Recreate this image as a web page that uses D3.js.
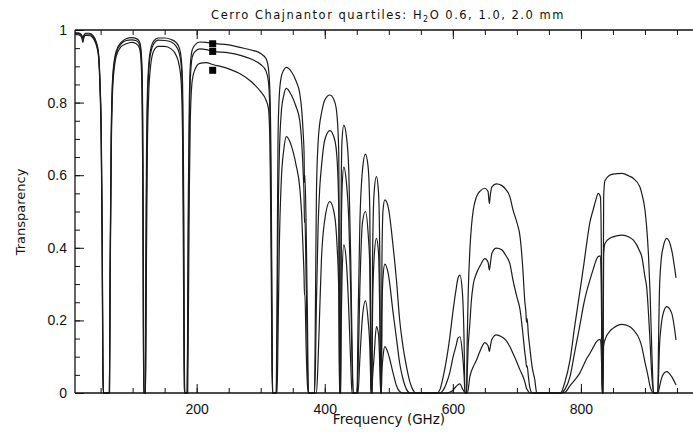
<!DOCTYPE html>
<html>
<head>
<meta charset="utf-8">
<script src="https://cdn.jsdelivr.net/npm/d3@7"></script>
<style>
  body { margin: 0; background: #fff; }
  svg { display: block; font-family: "DejaVu Sans", sans-serif; }
  .tick text { font-size: 14px; fill: #111; }
  .tick line { stroke: #111; }
</style>
</head>
<body>
<svg id="chart" width="693" height="434"></svg>
<script>
// atmospheric transparency at Cerro Chajnantor
// common frequency grid (GHz), one row per spectral window
const freqGHz = [
  10, 15, 19, 21, 22.2, 23.5, 26, 32, 38, 43, 46.5, 49, 51, 52.5, 53.5, 54.3, 63.8,
  64.8, 66.6, 69.2, 74.4, 82, 90, 98.5, 105, 110, 112.5, 114.5, 115.8, 116.7, 117.4, 119.8,
  120.6, 121.6, 123, 125, 128, 133, 140, 150, 160, 168, 173, 176, 178, 179.5, 180.5, 181.3, 185.2,
  186, 187, 188.5, 190, 193, 197, 205, 215, 225, 250, 267, 285, 300, 308, 312, 314.5, 316.3, 317.6, 318.6, 324.3,
  325.6, 327, 329, 332, 336, 340, 348, 355, 361, 364, 366.5, 367.7, 368.3, 369, 371, 373, 374.5, 384,
  385.5, 387, 389.6, 392, 394.8, 400, 408, 415.6, 419.3, 421.9, 422.7, 423.2, 424.6, 425.6, 427, 429.7, 433.9, 437.5, 440.6, 442.5, 444.5, 450.3,
  452, 454.7, 458.9, 463.5, 467.7, 470.3, 471.5, 472.2, 473.5, 474.6, 477, 480.7, 484, 486, 487.3, 488.3, 489.3, 491, 493.8, 499, 506.8, 512, 517, 522, 527.7, 533, 538, 542,
  575, 580, 585, 590, 595, 600.5, 605, 608, 611, 615, 617.5, 619, 621.4,
  622.5, 624, 626.6, 629, 632, 637, 643, 650, 655, 657, 658.5, 661, 668, 676, 683, 689, 694, 700, 705, 709, 712.5, 714, 715, 716, 718, 720, 724, 728, 731,
  768, 775, 783, 790, 798, 805, 809, 814, 819, 823, 827, 830.5, 832.3, 833.2, 834.2,
  835.5, 837.5, 845, 850, 864, 875, 882, 892, 895, 900, 902.6, 905.5, 908, 911, 913.5, 920, 921.3, 922.5, 925, 928.6, 934, 941.7, 948.5
];

// H2O 0.6 mm
const pwv06 = [
  .993,.992,.989,.984,.978,.984,.991,.991,.985,.968,.940,.860,.720,.450,.100,0,0,
  .350,.720,.880,.942,.966,.976,.979,.977,.970,.955,.900,.740,.400,0,0,
  .350,.650,.820,.900,.945,.970,.978,.978,.974,.965,.950,.920,.850,.600,.200,0,0,
  .250,.550,.800,.900,.945,.958,.967,.966,.963,.959,.952,.945,.935,.922,.895,.820,.600,.250,0,0,
  .300,.700,.820,.870,.890,.897,.885,.860,.825,.780,.710,.660,.580,.600,.450,.200,0,0,
  .250,.550,.690,.740,.770,.807,.821,.802,.761,.660,.350,0,0,.550,.697,.738,.706,.614,.366,.150,0,0,
  .200,.458,.614,.658,.623,.504,.250,0,0,.366,.550,.596,.550,.366,0,0,.366,.504,.532,.513,.403,.310,.201,.130,.072,.030,.008,0,
  0,.010,.045,.091,.150,.229,.285,.316,.325,.275,.150,0,0,
  .150,.275,.394,.458,.505,.541,.557,.564,.555,.522,.545,.568,.576,.572,.560,.541,.504,.470,.430,.350,.250,.225,.195,.205,.160,.128,.070,.036,0,
  0,.030,.091,.180,.275,.360,.412,.470,.504,.530,.550,.540,.300,0,0,
  .540,.585,.600,.603,.605,.598,.591,.568,.550,.504,.458,.380,.275,.100,0,0,.150,.275,.360,.403,.426,.394,.317
];

// H2O 1.0 mm
const pwv10 = [
  .991,.990,.987,.981,.974,.981,.989,.989,.982,.965,.936,.852,.705,.420,.080,0,0,
  .320,.700,.870,.937,.962,.971,.973,.971,.963,.945,.880,.690,.300,0,0,
  .250,.550,.780,.880,.935,.962,.972,.971,.967,.955,.935,.900,.800,.500,.100,0,0,
  .150,.450,.720,.860,.925,.940,.948,.946,.941,.937,.931,.920,.905,.888,.858,.760,.480,.150,0,0,
  .150,.450,.650,.770,.820,.839,.820,.790,.750,.690,.600,.540,.470,.480,.300,.080,0,0,
  .080,.250,.458,.560,.623,.697,.723,.697,.642,.504,.200,0,0,.380,.560,.622,.578,.477,.275,.090,0,0,
  .060,.280,.470,.500,.440,.348,.150,0,0,.220,.370,.426,.385,.200,0,0,.220,.320,.355,.330,.220,.150,.082,.040,.010,0,0,0,
  0,0,.008,.027,.055,.100,.130,.151,.155,.109,.050,0,0,
  .060,.128,.192,.256,.300,.330,.352,.370,.360,.339,.355,.385,.399,.395,.378,.357,.310,.265,.229,.170,.110,.090,.072,.075,.045,.017,0,0,0,
  0,.010,.045,.110,.183,.250,.280,.311,.340,.362,.376,.378,.200,0,0,
  .380,.412,.426,.430,.435,.430,.421,.390,.376,.320,.293,.220,.140,.040,0,0,.050,.120,.180,.220,.238,.220,.146
];

// H2O 2.0 mm
const pwv20 = [
  .988,.987,.983,.976,.966,.976,.985,.985,.978,.960,.930,.840,.680,.380,.050,0,0,
  .280,.660,.850,.928,.954,.962,.966,.963,.953,.930,.840,.600,.170,0,0,
  .080,.380,.670,.820,.900,.943,.955,.955,.948,.930,.900,.850,.700,.300,.020,0,0,
  0,.200,.550,.750,.860,.890,.908,.910,.905,.893,.880,.858,.830,.808,.785,.680,.380,.060,0,0,
  0,.150,.400,.580,.670,.706,.680,.630,.565,.490,.380,.320,.270,.270,.120,.020,0,0,
  0,0,.090,.220,.366,.477,.527,.486,.403,.275,.080,0,0,.180,.320,.408,.357,.229,.080,0,0,0,
  0,.090,.210,.254,.200,.128,.050,0,0,.040,.100,.183,.160,.070,0,0,.060,.100,.128,.109,.054,.020,.004,0,0,0,0,0,
  0,0,0,0,.002,.008,.018,.023,.025,.012,.004,0,0,
  0,.010,.045,.060,.073,.091,.118,.139,.130,.114,.128,.148,.160,.155,.145,.128,.109,.085,.063,.048,.030,.020,.012,.010,.004,0,0,0,0,
  0,.002,.020,.035,.054,.080,.095,.109,.125,.138,.146,.148,.080,0,0,
  .130,.146,.170,.178,.189,.184,.174,.145,.128,.085,.065,.040,.018,.004,0,0,.005,.015,.035,.052,.059,.045,.022
];

// 225 GHz tipper values marked with squares
const markerFreq = 225;
const markerValues = [0.962, 0.941, 0.889];

const xMajor = [200, 400, 600, 800];
const xMinor = d3.range(50, 1001, 50);
const yMajor = [0, 0.2, 0.4, 0.6, 0.8, 1];
const yMinor = d3.range(1, 20).map(i => i * 0.05);

const W = 693, H = 434;
const svg = d3.select("#chart");

// plot box is cut off at the right edge of the picture
const x = d3.scaleLinear().domain([10, 1000]).range([75, 709]);
const y = d3.scaleLinear().domain([0, 1]).range([393, 30]);

svg.append("rect").attr("width", W).attr("height", H).attr("fill", "#fff");

// curves
const line = d3.line()
    .x((d, i) => x(freqGHz[i]))
    .y(d => y(d))
    .curve(d3.curveMonotoneX);

svg.append("g")
  .selectAll("path")
  .data([pwv06, pwv10, pwv20])
  .join("path")
    .attr("d", line)
    .attr("fill", "none")
    .attr("stroke", "#1c1c1c")
    .attr("stroke-width", 1.2);

// markers
svg.append("g")
  .selectAll("rect")
  .data(markerValues)
  .join("rect")
    .attr("x", x(markerFreq) - 3.5)
    .attr("y", d => y(d) - 3.5)
    .attr("width", 7)
    .attr("height", 7)
    .attr("fill", "#000");

// axes, ticks pointing inward
function noDomain(g) { g.select(".domain").remove(); }

svg.append("g").attr("transform", "translate(0,393)")
  .call(d3.axisBottom(x).tickValues(xMinor).tickSize(-5).tickFormat(""))
  .call(noDomain);
svg.append("g").attr("transform", "translate(0,393)")
  .call(d3.axisBottom(x).tickValues(xMajor).tickSize(-9).tickPadding(11).tickFormat(d3.format("d")))
  .call(noDomain);
svg.append("g").attr("transform", "translate(0,30)")
  .call(d3.axisTop(x).tickValues(xMinor).tickSize(-5).tickFormat(""))
  .call(noDomain);
svg.append("g").attr("transform", "translate(0,30)")
  .call(d3.axisTop(x).tickValues(xMajor).tickSize(-9).tickFormat(""))
  .call(noDomain);
svg.append("g").attr("transform", "translate(75,0)")
  .call(d3.axisLeft(y).tickValues(yMinor).tickSize(-5).tickFormat(""))
  .call(noDomain);
svg.append("g").attr("transform", "translate(75,0)")
  .call(d3.axisLeft(y).tickValues(yMajor).tickSize(-9).tickPadding(8).tickFormat(d3.format("~g")))
  .call(noDomain);

// frame
const frame = svg.append("g").attr("stroke", "#111").attr("stroke-width", 1.3);
frame.append("line").attr("x1", 75).attr("x2", 75).attr("y1", 30).attr("y2", 393);
frame.append("line").attr("x1", 75).attr("x2", W).attr("y1", 30).attr("y2", 30);
frame.append("line").attr("x1", 75).attr("x2", W).attr("y1", 393).attr("y2", 393);

// title
const title = svg.append("text")
    .attr("x", 388).attr("y", 19)
    .attr("text-anchor", "middle")
    .attr("font-size", 11.5)
    .attr("letter-spacing", 1.5)
    .attr("fill", "#111");
title.append("tspan").text("Cerro Chajnantor quartiles: H");
title.append("tspan").attr("dy", 3).attr("font-size", 8).text("2");
title.append("tspan").attr("dy", -3).text("O 0.6, 1.0, 2.0 mm");

svg.append("text")
    .attr("x", 389).attr("y", 424)
    .attr("text-anchor", "middle")
    .attr("font-size", 13.5)
    .attr("fill", "#111")
    .text("Frequency (GHz)");

svg.append("text")
    .attr("transform", "translate(25,212) rotate(-90)")
    .attr("text-anchor", "middle")
    .attr("font-size", 13)
    .attr("fill", "#111")
    .text("Transparency");
</script>
</body>
</html>
